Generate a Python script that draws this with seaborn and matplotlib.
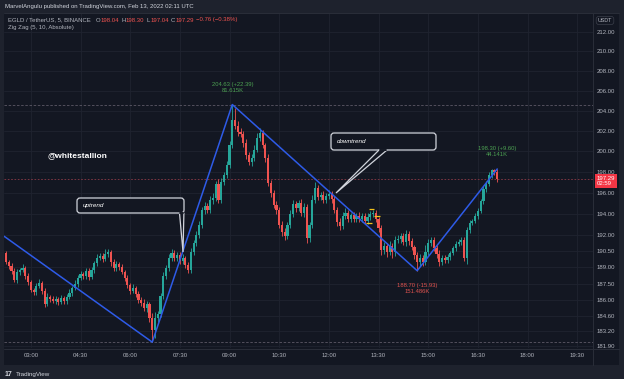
import numpy as np
import matplotlib
matplotlib.use("Agg")
import matplotlib.pyplot as plt
import matplotlib.transforms as mtransforms
from matplotlib.patches import FancyBboxPatch, Polygon, Rectangle
from matplotlib.lines import Line2D
from matplotlib.ticker import FixedLocator, FixedFormatter, NullLocator
import seaborn as sns

# ---- data (EGLD/USDT, 5 min candles) ----
first_open = 190.34
closes = [
    189.52, 189.14, 188.68, 187.85, 188.59, 188.77, 188.96, 188.22, 187.67, 186.95,
    186.77, 187.31, 187.58, 186.86, 185.67, 186.31, 186.12, 185.94, 186.12, 185.85,
    186.22, 185.94, 186.31, 186.68, 187.13, 187.49, 188.03, 188.40, 188.22, 188.68,
    188.12, 188.77, 189.42, 189.88, 190.07, 189.79, 190.25, 190.44, 189.52, 188.96,
    189.33, 189.05, 188.59, 188.03, 187.40, 186.86, 187.13, 186.59, 186.03, 185.76,
    185.31, 185.67, 184.41, 183.33, 184.41, 184.77, 186.40, 188.22, 188.96, 189.88,
    190.34, 189.88, 190.16, 189.61, 189.88, 189.24, 188.77, 190.44, 191.27, 192.02,
    192.96, 194.38, 194.76, 194.38, 195.33, 195.52, 196.86, 195.33, 197.05, 197.72,
    198.69, 200.64, 203.10, 202.51, 201.91, 201.72, 200.83, 199.66, 198.98, 199.37,
    200.15, 201.32, 201.81, 200.64, 199.37, 196.95, 196.00, 194.86, 194.38, 192.96,
    192.30, 191.93, 192.96, 194.00, 194.95, 194.57, 195.05, 194.09, 194.67, 191.74,
    192.96, 195.33, 196.47, 195.61, 195.80, 195.33, 195.71, 195.90, 195.42, 194.38,
    193.24, 192.87, 193.81, 194.09, 193.53, 193.90, 193.53, 193.81, 193.53, 193.81,
    193.34, 193.71, 194.00, 194.09, 193.53, 192.68, 190.62, 190.99, 190.44, 190.99,
    190.44, 191.55, 191.64, 191.93, 191.36, 192.11, 191.46, 190.90, 190.16, 189.52,
    189.88, 189.52, 190.44, 191.27, 191.55, 190.81, 190.25, 189.52, 189.88, 189.70,
    189.98, 190.34, 190.81, 191.18, 191.36, 191.55, 189.88, 192.49, 193.15, 193.34,
    193.81, 194.28, 195.23, 196.38, 196.86, 197.72, 198.20, 198.04, 197.29,
]
upper_wick = [
    0.15, 0.2, 0.3, 0.25, 0.3, 0.2, 0.35, 0.2, 0.25, 0.15,
    0.2, 0.3, 0.4, 0.2, 0.25, 0.35, 0.2, 0.3, 0.25, 0.2,
    0.3, 0.2, 0.25, 0.3, 0.2, 0.35, 0.25, 0.3, 0.2, 0.3,
    0.25, 0.3, 0.2, 0.35, 0.3, 0.25, 0.45, 0.3, 0.2, 0.25,
    0.3, 0.2, 0.25, 0.2, 0.3, 0.2, 0.35, 0.2, 0.25, 0.3,
    0.35, 0.3, 0.2, 0.4, 0.5, 0.3, 0.25, 0.35, 0.3, 0.4,
    0.35, 0.3, 0.25, 0.3, 0.35, 0.2, 0.3, 0.35, 0.3, 0.4,
    0.35, 0.3, 0.4, 0.3, 0.35, 0.45, 0.3, 0.5, 0.4, 0.3,
    0.4, 0.35, 1.53, 1.2, 0.5, 0.4, 0.3, 0.35, 0.3, 0.4,
    0.5, 0.5, 0.45, 0.3, 0.2, 0.35, 0.3, 0.25, 0.4, 0.3,
    0.35, 0.4, 0.3, 0.35, 0.4, 0.3, 0.3, 0.4, 0.35, 0.3,
    0.3, 0.45, 0.55, 0.3, 0.3, 0.35, 0.3, 0.4, 0.3, 0.25,
    0.3, 0.4, 0.35, 0.45, 0.3, 0.2, 0.25, 0.3, 0.35, 0.25,
    0.3, 0.35, 0.3, 0.25, 0.3, 0.2, 0.3, 0.4, 0.3, 0.5,
    0.3, 0.4, 0.35, 0.3, 0.3, 0.35, 0.3, 0.25, 0.2, 0.3,
    0.4, 0.3, 0.6, 0.4, 0.3, 0.3, 0.25, 0.35, 0.3, 0.3,
    0.25, 0.2, 0.2, 0.3, 0.25, 0.3, 0.25, 0.3, 0.25, 0.2,
    0.25, 0.3, 0.2, 0.25, 0.25, 0.3, 0.1, 0.05, 0.26,
]
lower_wick = [
    0.2, 0.25, 0.3, 0.2, 0.25, 0.3, 0.2, 0.25, 0.3, 0.2,
    0.3, 0.25, 0.2, 0.3, 0.25, 0.2, 0.3, 0.2, 0.25, 0.3,
    0.2, 0.3, 0.25, 0.2, 0.3, 0.2, 0.25, 0.2, 0.3, 0.25,
    0.3, 0.2, 0.25, 0.3, 0.2, 0.25, 0.2, 0.3, 0.35, 0.3,
    0.25, 0.3, 0.2, 0.3, 0.25, 0.3, 0.2, 0.3, 0.25, 0.3,
    0.3, 0.35, 0.4, 1.09, 0.7, 0.4, 0.3, 0.25, 0.3, 0.3,
    0.25, 0.3, 0.3, 0.25, 0.3, 0.3, 0.25, 0.3, 0.3, 0.25,
    0.3, 0.25, 0.4, 0.3, 0.25, 0.35, 0.3, 0.3, 0.25, 0.3,
    0.3, 0.25, 0.3, 0.35, 0.4, 0.3, 0.35, 0.4, 0.3, 0.35,
    0.3, 0.25, 0.3, 0.3, 0.4, 0.3, 0.35, 0.3, 0.4, 0.3,
    0.35, 0.4, 0.3, 0.3, 0.25, 0.35, 0.3, 0.3, 0.35, 0.5,
    0.4, 0.3, 0.25, 0.3, 0.3, 0.25, 0.3, 0.3, 0.35, 0.3,
    0.4, 0.35, 0.3, 0.3, 0.25, 0.3, 0.25, 0.3, 0.3, 0.3,
    0.25, 0.3, 0.3, 0.25, 0.3, 0.4, 0.5, 0.4, 0.5, 0.3,
    0.6, 0.4, 0.3, 0.35, 0.3, 0.4, 0.35, 0.3, 0.4, 0.82,
    0.35, 0.4, 0.3, 0.3, 0.25, 0.3, 0.35, 0.4, 0.3, 0.3,
    0.3, 0.25, 0.2, 0.25, 0.2, 0.25, 0.3, 0.6, 0.25, 0.2,
    0.2, 0.25, 0.2, 0.3, 0.25, 0.2, 0.25, 0.3, 0.25,
]

# zig zag pivots (candle index, price, volume label)
zz_idx = [-0.7, 53, 82, 149, 178]
zz_price = [191.9, 182.24, 204.63, 188.70, 198.30]
zz_vol = ["", "", "81.615K", "151.486K", "44.141K"]

# small yellow marks near 13:30
yel_idx = [132.5, 134.5, 131.5]
yel_price = [194.5, 193.8, 193.15]

price_ticks = [181.9, 183.2, 184.6, 186, 187.5, 189, 190.5, 192, 194, 196,
               198, 200, 202, 204, 206, 208, 210, 212]
time_idx = [9, 27, 45, 63, 81, 99, 117, 135, 153, 171, 189, 207]
time_labels = ["03:00", "04:30", "06:00", "07:30", "09:00", "10:30",
               "12:00", "13:30", "15:00", "16:30", "18:00", "19:30"]

# ---- style ----
W, H = 624, 379
BG = "#131722"
FRAME = "#1e222d"
GRID = "#1f2330"
SEP = "#2a2e39"
UP = "#26a69a"
DOWN = "#ef5350"
TXT = "#b2b5be"

sns.set_theme(style="dark")
plt.rcParams['font.family'] = ['Liberation Sans', 'DejaVu Sans']

fig = plt.figure(figsize=(W / 100, H / 100), dpi=100, facecolor=FRAME)
# pixel coords (x from left, y from top)
px = mtransforms.Affine2D().scale(1 / W, -1 / H).translate(0, 1) + fig.transFigure

fig.patches.append(Rectangle((4, 13), 615, 352, transform=px, facecolor=BG,
                             edgecolor='none', zorder=-5))

ax = fig.add_axes([4 / W, 1 - 348 / H, 589 / W, 335 / H])
ax.set_facecolor(BG)

idx = np.arange(len(closes))
c = np.array(closes)
o = np.concatenate([[first_open], c[:-1]])
hi = np.maximum(o, c) + np.array(upper_wick)
lo = np.minimum(o, c) - np.array(lower_wick)
cols = np.where(c >= o, UP, DOWN)

ax.vlines(idx, lo, hi, colors=cols, lw=0.6, zorder=2)
ax.bar(idx, np.maximum(np.abs(c - o), 0.06), bottom=np.minimum(o, c), width=0.78,
       color=cols, linewidth=0, zorder=3)

# high / low / last price lines
ax.axhline(hi.max(), color="#5c5866", ls=(0, (3, 2)), lw=0.6, zorder=1)
ax.axhline(lo.min(), color="#5c5866", ls=(0, (3, 2)), lw=0.6, zorder=1)
ax.axhline(c[-1], color="#8c3a46", ls=(0, (2, 2)), lw=0.6, zorder=1)

# zig zag
sns.lineplot(x=zz_idx, y=zz_price, sort=False, estimator=None, color="#2e5be8",
             lw=1.1, ax=ax, zorder=5)
for k in range(2, len(zz_idx)):
    d = zz_price[k] - zz_price[k - 1]
    up = d > 0
    ax.annotate(f"{zz_price[k]:.2f} ({d:+.2f})\n{zz_vol[k]}", xy=(zz_idx[k], zz_price[k]),
                xytext=(0, 8.5 if up else -9), textcoords='offset points',
                ha='center', va='bottom' if up else 'top', fontsize=4.2,
                color="#4ca152" if up else "#e0534f", linespacing=1.25,
                annotation_clip=False)

ax.hlines(yel_price, np.array(yel_idx) - 1, np.array(yel_idx) + 1,
          color="#f2c21b", lw=0.9, zorder=6)

# axes / scales
ax.set_yscale('log')
ax.set_ylim(181.72, 213.97)
ax.set_xlim(-0.72, 212.7)
ax.yaxis.set_major_locator(FixedLocator(price_ticks))
ax.yaxis.set_major_formatter(FixedFormatter([f"{p:.2f}" for p in price_ticks]))
ax.yaxis.set_minor_locator(NullLocator())
ax.yaxis.tick_right()
ax.set_xticks(time_idx)
ax.set_xticklabels(time_labels)
ax.tick_params(axis='y', length=0, pad=2.9, labelsize=4.3, labelcolor=TXT)
ax.tick_params(axis='x', length=0, pad=3.4, labelsize=4.3, labelcolor=TXT)
ax.grid(True, color=GRID, lw=0.6)
for s in ax.spines.values():
    s.set_visible(False)

# separators
fig.add_artist(Line2D([593, 593], [13, 365], transform=px, color=SEP, lw=0.7))
fig.add_artist(Line2D([4, 619], [348.5, 348.5], transform=px, color=SEP, lw=0.7))
fig.add_artist(Line2D([4, 619], [13, 13], transform=px, color=SEP, lw=0.7))

# last price tag
ax.annotate(f"{c[-1]:.2f}\n02:59", xy=(1, c[-1]), xycoords=ax.get_yaxis_transform(),
            xytext=(2.4, 2.6), textcoords='offset points', ha='left', va='top',
            fontsize=4.3, color='white', linespacing=1.15, annotation_clip=False,
            bbox=dict(boxstyle='square,pad=0.3', fc="#f23645", ec='none'))

fig.text(605, 20.5, "USDT", transform=px, ha='center', va='center', fontsize=3.9,
         color=TXT, bbox=dict(boxstyle='round,pad=0.3,rounding_size=0.5', fc=BG, ec="#3a3e4a", lw=0.5))

# header
fig.text(5, 6.5, "MarvelAngulu published on TradingView.com, Feb 13, 2022 02:11 UTC",
         transform=px, fontsize=4.3, color="#d1d4dc", va='center')
t = fig.text(8, 20, "EGLD / TetherUS, 5, BINANCE", transform=px, fontsize=4.3,
             color=TXT, va='center')
for s, col, gap in [("O", TXT, 3.5), ("198.04", DOWN, 0.3), ("H", TXT, 1.5), ("198.30", DOWN, 0.3),
                    ("L", TXT, 1.5), ("197.04", DOWN, 0.3), ("C", TXT, 1.5), ("197.29", DOWN, 0.3),
                    ("\u22120.76 (\u22120.38%)", DOWN, 1.5)]:
    t = fig.add_artist(matplotlib.text.Annotation(
        s, xy=(1, 0), xycoords=t, xytext=(gap, 0), textcoords='offset points',
        va='bottom', fontsize=4.3, color=col, annotation_clip=False))
fig.text(8, 28, "Zig Zag (5, 10, Absolute)", transform=px, fontsize=4.3, color=TXT, va='center')

# footer
fig.text(5, 374.5, "17", transform=px, fontsize=5, color="#d1d4dc", weight='heavy', va='center')
fig.text(16, 374.5, "TradingView", transform=px, fontsize=4.5, color="#d1d4dc", va='center')

fig.text(47, 155.5, "@whitestallion", transform=px, fontsize=6, color="white",
         weight='bold', va='center')


def callout(x0, y0, w, h, tail, text):
    fig.patches.append(FancyBboxPatch((x0, y0), w, h, boxstyle="round,pad=0,rounding_size=3",
                                      transform=px, fc=BG, ec="#d1d4dc", lw=0.9, zorder=8))
    fig.patches.append(Polygon(tail, closed=True, transform=px, fc=BG, ec="#d1d4dc",
                               lw=0.9, zorder=9))
    (a, yb), (b, _) = tail[0], tail[1]
    fig.add_artist(Line2D([a + 0.7, b - 0.7], [yb - 0.2, yb - 0.2], transform=px, color=BG,
                          lw=1.4, zorder=10))
    fig.text(x0 + 6, y0 + h / 2, text, transform=px, fontsize=4.6, color="white",
             style='italic', va='center', zorder=11)


callout(77, 198, 107, 15, [(179.5, 213), (183.9, 213), (183, 252)], "uptrend")
callout(331, 133, 105, 17, [(379, 150), (387, 150), (336, 193)], "downtrend")

fig.savefig("out.png", dpi=100, facecolor=fig.get_facecolor())
